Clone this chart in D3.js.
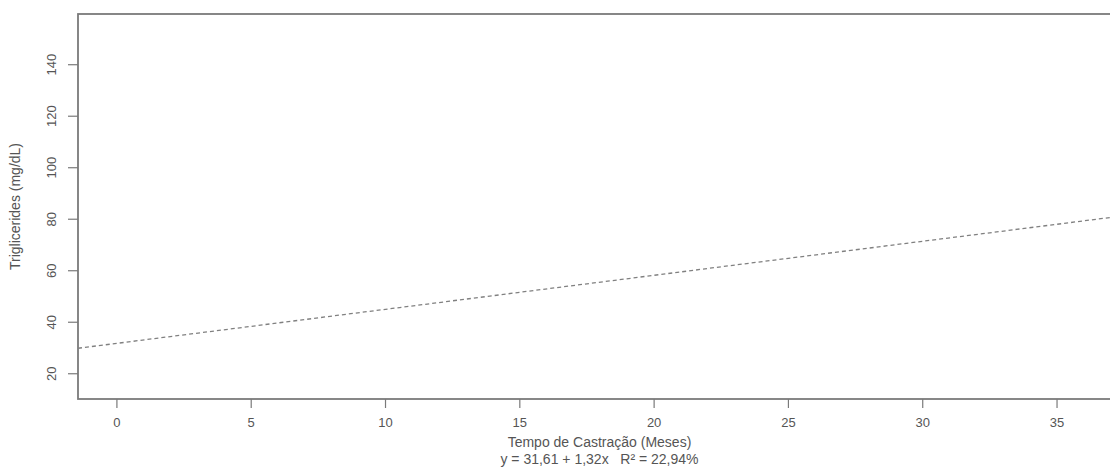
<!DOCTYPE html>
<html>
<head>
<meta charset="utf-8">
<script src="https://cdn.jsdelivr.net/npm/d3@7"></script>
<style>
  html, body { margin: 0; padding: 0; background: #fff; }
  svg { display: block; }
  text { font-family: "Liberation Sans", Arial, sans-serif; fill: #555; white-space: pre; }
</style>
</head>
<body>
<svg id="chart" width="1110" height="468"></svg>
<script>
// ---- data ----
const xTicks = [0, 5, 10, 15, 20, 25, 30, 35];
const yTicks = [20, 40, 60, 80, 100, 120, 140];
const xDomain = [-1.43, 37.4];
const yDomain = [10, 159.5];
// fitted regression line (dashed), endpoints read at the plot edges
const lineX = [-1.43, 37.4];
const lineY = [29.7, 81.0];
const xTitle = "Tempo de Castração (Meses)";
const equation = "y = 31,61 + 1,32x   R² = 22,94%";
const yTitle = "Triglicerides (mg/dL)";

// ---- layout ----
const svg = d3.select("#chart");
const L = 78, T = 14, R = 1121, B = 399;
const x = d3.scaleLinear().domain(xDomain).range([L, R]);
const y = d3.scaleLinear().domain(yDomain).range([B, T]);
const col = "#7a7a7a";
const txt = "#5a5a5a";

// frame
svg.append("rect")
  .attr("x", L).attr("y", T).attr("width", R - L).attr("height", B - T)
  .attr("fill", "none").attr("stroke", col).attr("stroke-width", 1.8);

// x axis
const gx = svg.append("g").attr("transform", `translate(0,${B})`)
  .call(d3.axisBottom(x).tickValues(xTicks).tickSize(9).tickPadding(10).tickFormat(d3.format("d")));
gx.select(".domain").remove();
gx.selectAll("line").attr("stroke", col).attr("stroke-width", 1.2);
gx.selectAll("text").attr("font-size", 13).attr("fill", txt)
  .attr("font-family", "'Liberation Sans', Arial, sans-serif");

// y axis
const gy = svg.append("g").attr("transform", `translate(${L},0)`)
  .call(d3.axisLeft(y).tickValues(yTicks).tickSize(10).tickFormat(d3.format("d")));
gy.select(".domain").remove();
gy.selectAll("line").attr("stroke", col).attr("stroke-width", 1.2);
gy.selectAll("text")
  .attr("font-size", 13).attr("fill", txt)
  .attr("font-family", "'Liberation Sans', Arial, sans-serif")
  .attr("x", 0).attr("y", 0).attr("dy", null)
  .attr("text-anchor", "middle")
  .attr("dominant-baseline", "central")
  .attr("transform", "translate(-27,0) rotate(-90)");

// regression line
svg.append("path")
  .datum(d3.zip(lineX, lineY))
  .attr("d", d3.line().x(d => x(d[0])).y(d => y(d[1])))
  .attr("fill", "none").attr("stroke", "#808080").attr("stroke-width", 1.3)
  .attr("stroke-dasharray", "4,3");

// titles
const cx = (L + R) / 2;
svg.append("text").attr("x", cx).attr("y", 447).attr("text-anchor", "middle")
  .attr("font-size", 14).text(xTitle);
svg.append("text").attr("x", cx).attr("y", 464).attr("text-anchor", "middle")
  .attr("font-size", 14).text(equation);
svg.append("text")
  .attr("transform", `translate(20,${(T + B) / 2}) rotate(-90)`)
  .attr("text-anchor", "middle").attr("font-size", 14).text(yTitle);
</script>
</body>
</html>
